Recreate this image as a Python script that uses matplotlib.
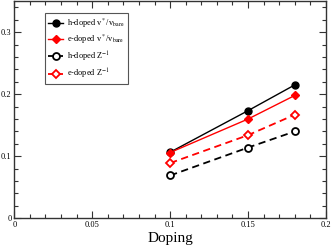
import matplotlib
matplotlib.use("Agg")
import matplotlib.pyplot as plt
from matplotlib.ticker import MultipleLocator

plt.rcParams['font.family'] = ['Liberation Serif', 'DejaVu Serif']
plt.rcParams['mathtext.fontset'] = 'stix'

# Data
doping = [0.10, 0.15, 0.18]
h_vel = [0.1065, 0.1735, 0.215]
e_vel = [0.106, 0.160, 0.198]
h_z = [0.069, 0.114, 0.140]
e_z = [0.089, 0.134, 0.167]

fig = plt.figure(figsize=(3.32, 2.46), dpi=100)
ax = fig.add_axes([0.043, 0.1126, 0.939, 0.883])

ax.plot(doping, h_vel, color='black', lw=1.0, marker='o', ms=5,
        label=r'h-doped v$^*$/v$_{\rm bare}$')
ax.plot(doping, e_vel, color='red', lw=1.0, marker='D', ms=4,
        label=r'e-doped v$^*$/v$_{\rm bare}$')
ax.plot(doping, h_z, color='black', lw=1.3, ls=(0, (4, 2.5)), marker='o', ms=5,
        mfc='white', mew=1.3, label=r'h-doped Z$^{-1}$')
ax.plot(doping, e_z, color='red', lw=1.3, ls=(0, (4, 2.5)), marker='D', ms=4,
        mfc='white', mew=1.3, label=r'e-doped Z$^{-1}$')

ax.set_xlim(0, 0.2)
ax.set_ylim(0, 0.35)
ax.xaxis.set_minor_locator(MultipleLocator(0.01))
ax.yaxis.set_minor_locator(MultipleLocator(0.02))
ax.set_xticks([0, 0.05, 0.1, 0.15, 0.2])
ax.set_xticklabels(['0', '0.05', '0.1', '0.15', '0.2'])
ax.set_yticks([0, 0.1, 0.2, 0.3])
ax.set_yticklabels(['0', '0.1', '0.2', '0.3'])
ax.tick_params(which='both', direction='in', top=True, right=True,
               labelsize=6, pad=2, width=0.8, color='#333333')
ax.tick_params(which='major', length=5)
ax.tick_params(which='minor', length=3)
for s in ax.spines.values():
    s.set_linewidth(1.0)
    s.set_color('#333333')

ax.set_xlabel('Doping', fontsize=11, labelpad=2)

leg = ax.legend(loc='upper left', bbox_to_anchor=(0.099, 0.946), fontsize=6,
                fancybox=False, edgecolor='#555555', framealpha=1,
                handlelength=1.8, handletextpad=0.4, borderpad=0.4,
                labelspacing=0.4, borderaxespad=0)
leg.get_frame().set_linewidth(0.8)

fig.savefig('out.png', dpi=100)
